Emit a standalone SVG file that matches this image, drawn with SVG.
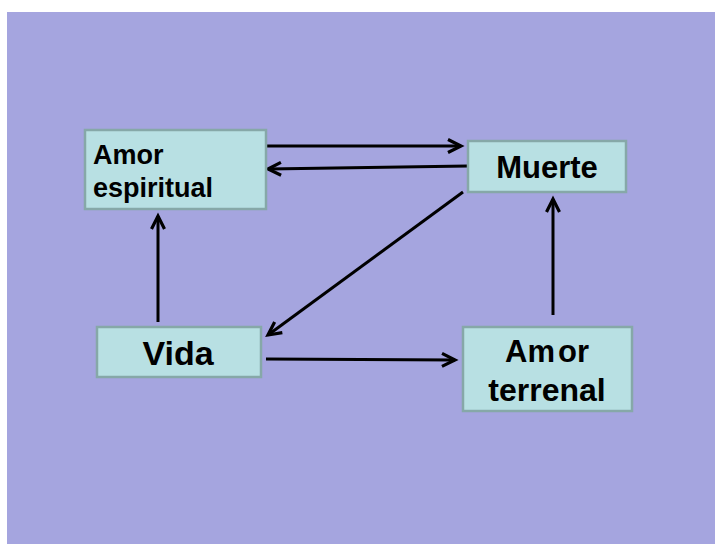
<svg xmlns="http://www.w3.org/2000/svg" width="715" height="544" viewBox="0 0 715 544">
<style>
.box{fill:#B8E0E3;stroke:#86A8A8;stroke-width:2.5}
.t{font-family:"Liberation Sans",Arial,sans-serif;font-weight:bold;fill:#000}
.c{text-anchor:middle}
.edge{stroke:#000;stroke-width:3;fill:none;marker-end:url(#arr)}
</style>
<defs>
<marker id="arr" markerUnits="userSpaceOnUse" markerWidth="20" markerHeight="20" refX="0" refY="0" viewBox="-16 -10 20 20" orient="auto">
<path d="M-13,-6.5 L0,0 L-13,6.5" fill="none" stroke="#000" stroke-width="3.2"/>
</marker>
</defs>
<rect x="0" y="0" width="715" height="544" fill="#FFFFFF"/>
<rect x="7" y="12" width="708" height="532" fill="#A5A5DF"/>
<g id="connectors">
<line class="edge" x1="265" y1="146" x2="461" y2="146"/>
<line class="edge" x1="468" y1="166" x2="268" y2="169"/>
<line class="edge" x1="158" y1="322" x2="158" y2="216"/>
<line class="edge" x1="463" y1="192" x2="268" y2="335"/>
<line class="edge" x1="266" y1="359" x2="455" y2="360"/>
<line class="edge" x1="553" y1="315" x2="553" y2="199"/>
</g>
<g id="amor-espiritual">
<rect class="box" x="85" y="130" width="181" height="79"/>
<text class="t" x="93" y="164" font-size="27">Amor</text>
<text class="t" x="93" y="197" font-size="27">espiritual</text>
</g>
<g id="muerte">
<rect class="box" x="468" y="141" width="158" height="51"/>
<text class="t c" x="547" y="178" font-size="31">Muerte</text>
</g>
<g id="vida">
<rect class="box" x="97" y="327" width="164" height="50"/>
<text class="t c" x="178" y="365" font-size="34">Vida</text>
</g>
<g id="amor-terrenal">
<rect class="box" x="463" y="327" width="169" height="84"/>
<text class="t c" x="547" y="362" font-size="31">Am<tspan dx="3">or</tspan></text>
<text class="t c" x="547" y="401" font-size="32">terrenal</text>
</g>
</svg>
